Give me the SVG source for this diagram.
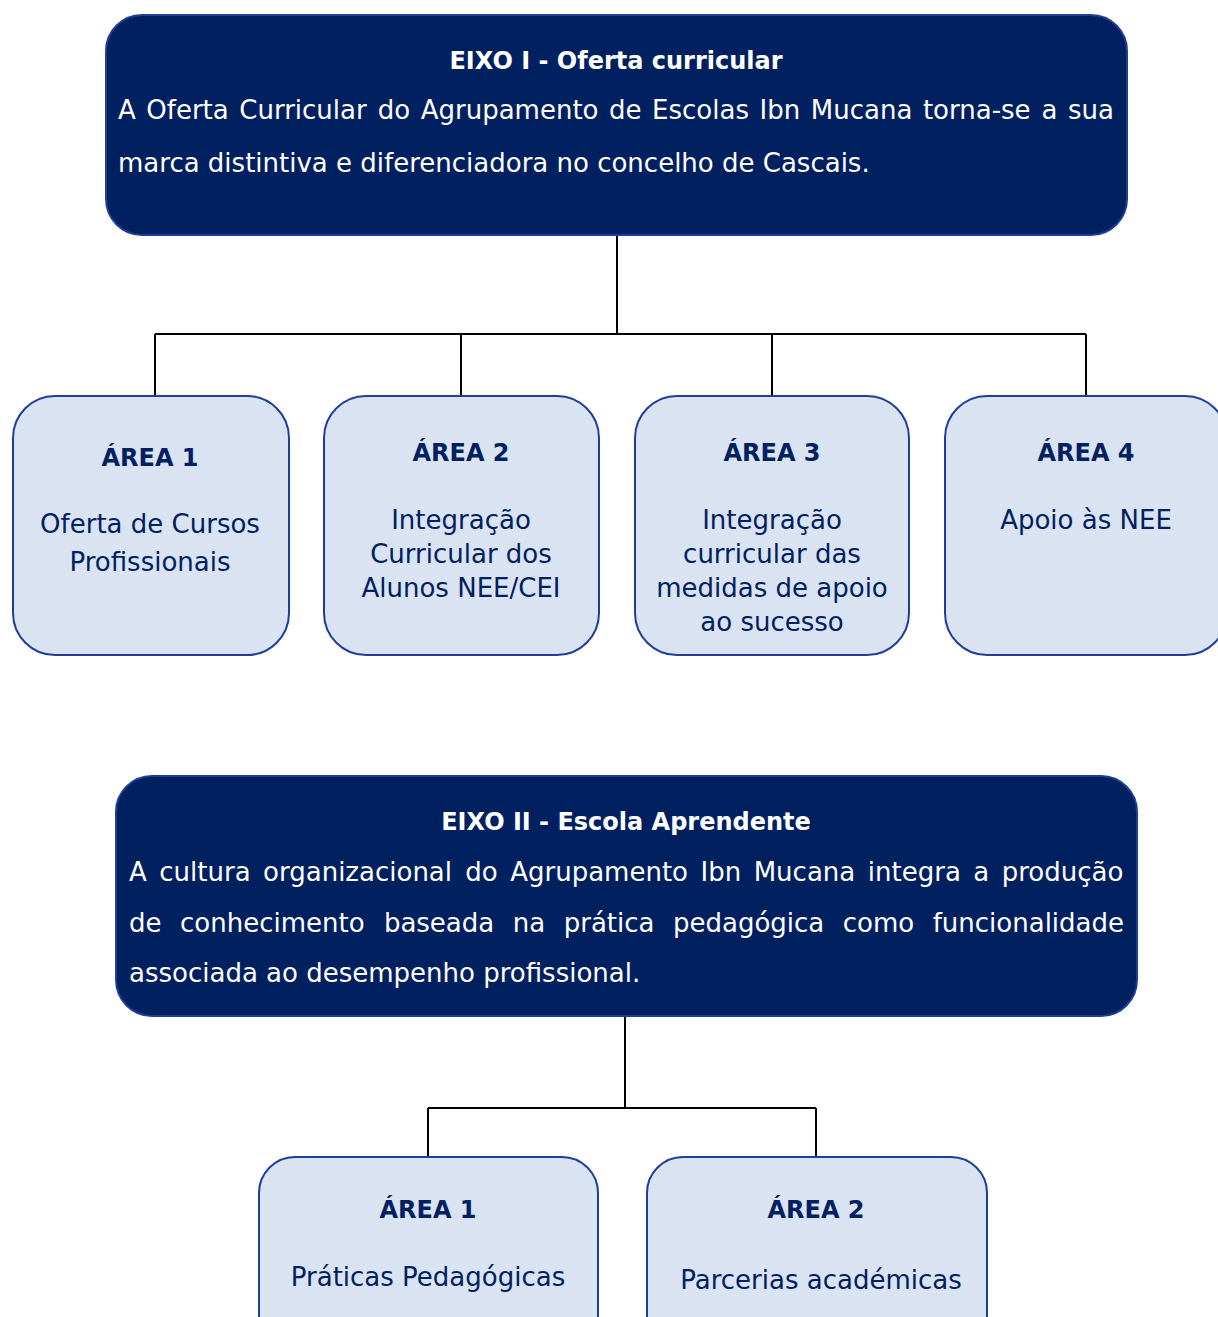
<svg xmlns="http://www.w3.org/2000/svg" width="1218" height="1317" viewBox="0 0 1218 1317">
<style>
.t{font-family:"DejaVu Sans","Liberation Sans",sans-serif;font-size:26px}
.b{font-family:"DejaVu Sans","Liberation Sans",sans-serif;font-size:24px;font-weight:bold}
.dark{fill:#002060;stroke:#1F3E9A;stroke-width:2}
.light{fill:#DAE3F1;stroke:#1F3E9A;stroke-width:2}
.w{fill:#FFFFFF}
.n{fill:#002060}
.c{text-anchor:middle}
.conn{stroke:#000;stroke-width:2;fill:none}
</style>
<rect width="1218" height="1317" fill="#FFFFFF"/>
<g id="connectors">
<path class="conn" d="M617 235V334M155 334H1086M155 334V396M461 334V398M772 334V396M1086 334V396"/>
<path class="conn" d="M625 1016V1108M428 1108H816M428 1108V1157M816 1108V1157"/>
</g>
<g id="eixo1">
<rect class="dark" x="106" y="15" width="1021" height="220" rx="36"/>
<text class="b w c" x="616" y="69">EIXO I - Oferta curricular</text>
<text class="t w" y="119"><tspan x="118">A</tspan><tspan x="146.3">Oferta</tspan><tspan x="239.3">Curricular</tspan><tspan x="377.7">do</tspan><tspan x="420.7">Agrupamento</tspan><tspan x="609">de</tspan><tspan x="652.1">Escolas</tspan><tspan x="759.5">Ibn</tspan><tspan x="810.8">Mucana</tspan><tspan x="922.9">torna-se</tspan><tspan x="1041.6">a</tspan><tspan x="1068">sua</tspan></text>
<text class="t w" x="118" y="172">marca distintiva e diferenciadora no concelho de Cascais.</text>
</g>
<g id="e1-area1">
<rect class="light" x="13" y="396" width="276" height="259" rx="42"/>
<text class="b n c" x="150" y="466">ÁREA 1</text>
<text class="t n c" x="150" y="533">Oferta de Cursos</text>
<text class="t n c" x="150" y="571">Profissionais</text>
</g>
<g id="e1-area2">
<rect class="light" x="324" y="396" width="275" height="259" rx="42"/>
<text class="b n c" x="461" y="461">ÁREA 2</text>
<text class="t n c" x="461" y="529">Integração</text>
<text class="t n c" x="461" y="563">Curricular dos</text>
<text class="t n c" x="461" y="597">Alunos NEE/CEI</text>
</g>
<g id="e1-area3">
<rect class="light" x="635" y="396" width="274" height="259" rx="42"/>
<text class="b n c" x="772" y="461">ÁREA 3</text>
<text class="t n c" x="772" y="529">Integração</text>
<text class="t n c" x="772" y="563">curricular das</text>
<text class="t n c" x="772" y="597">medidas de apoio</text>
<text class="t n c" x="772" y="631">ao sucesso</text>
</g>
<g id="e1-area4">
<rect class="light" x="945" y="396" width="282" height="259" rx="42"/>
<text class="b n c" x="1086" y="461">ÁREA 4</text>
<text class="t n c" x="1086" y="529">Apoio às NEE</text>
</g>
<g id="eixo2">
<rect class="dark" x="116" y="776" width="1021" height="240" rx="36"/>
<text class="b w c" x="626" y="830">EIXO II - Escola Aprendente</text>
<text class="t w" y="881"><tspan x="129">A</tspan><tspan x="159.3">cultura</tspan><tspan x="263.1">organizacional</tspan><tspan x="465.3">do</tspan><tspan x="510.2">Agrupamento</tspan><tspan x="700.5">Ibn</tspan><tspan x="753.7">Mucana</tspan><tspan x="867.8">integra</tspan><tspan x="973.3">a</tspan><tspan x="1001.7">produção</tspan></text>
<text class="t w" y="932"><tspan x="129">de</tspan><tspan x="180">conhecimento</tspan><tspan x="383.9">baseada</tspan><tspan x="512.8">na</tspan><tspan x="563.7">prática</tspan><tspan x="673">pedagógica</tspan><tspan x="842.8">como</tspan><tspan x="932.7">funcionalidade</tspan></text>
<text class="t w" x="129" y="982">associada ao desempenho profissional.</text>
</g>
<g id="e2-area1">
<rect class="light" x="259" y="1157" width="339" height="200" rx="36"/>
<text class="b n c" x="428" y="1218">ÁREA 1</text>
<text class="t n c" x="428" y="1286">Práticas Pedagógicas</text>
</g>
<g id="e2-area2">
<rect class="light" x="647" y="1157" width="340" height="200" rx="36"/>
<text class="b n c" x="816" y="1218">ÁREA 2</text>
<text class="t n c" x="821" y="1289">Parcerias académicas</text>
</g>
</svg>
